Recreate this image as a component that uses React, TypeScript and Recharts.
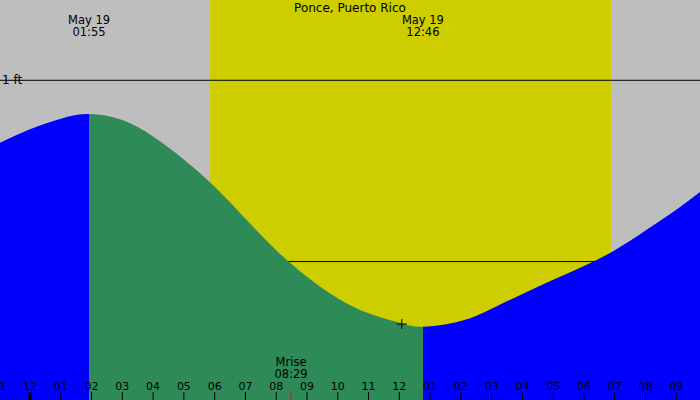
import {
  ComposedChart,
  Area,
  XAxis,
  YAxis,
  ReferenceArea,
  ReferenceLine,
  ReferenceDot,
} from 'recharts';

// tide heights (ft), hour 0 = midnight May 19
const tideHours = [-1, 0, 1, 1.917, 3, 4, 5, 6, 7, 8, 9, 10, 11, 12, 12.767, 14, 15, 16, 17, 18, 19, 20, 21, 22];
const tideFeet = [0.654, 0.73, 0.788, 0.814, 0.781, 0.69, 0.563, 0.412, 0.236, 0.062, -0.084, -0.203, -0.286, -0.338, -0.36, -0.328, -0.26, -0.179, -0.1, -0.024, 0.062, 0.171, 0.286, 0.414];

const highTide = { hour: 1.917, label: '01:55', date: 'May 19' };
const lowTide = { hour: 12.767, label: '12:46', date: 'May 19' };
const sunrise = 5.849;
const sunset = 18.878;
const moonrise = { hour: 8.483, label: '08:29' };
const marker = { hour: 12.08, feet: -0.345 };

const tickHours = [-1, 0, 1, 2, 3, 4, 5, 6, 7, 8, 9, 10, 11, 12, 13, 14, 15, 16, 17, 18, 19, 20, 21];
const feetLines = [1, 0];

const W = 700;
const H = 400;
const FONT = 'DejaVu Sans';
const BLUE = '#0000FF';
const GREEN = '#2E8B57';

const rows = tideHours.map((hour, i) => ({ hour, feet: tideFeet[i] }));

// falling tide (high -> low) is green, the rest blue; stops are fractions of the area's width
const first = tideHours[0];
const span = tideHours[tideHours.length - 1] - first;
const fallStart = (highTide.hour - first) / span;
const fallEnd = (lowTide.hour - first) / span;

function hourLabel(h: number) {
  const v = ((h % 12) + 12) % 12 || 12;
  return String(v).padStart(2, '0');
}

function HourTick(props: any) {
  const { x, payload } = props;
  const h = payload.value;
  return (
    <g>
      <line x1={x} x2={x} y1={H - 8} y2={H} stroke="#000" strokeWidth={h === 0 ? 3 : 1} />
      <text x={x} y={H - 10} textAnchor="middle" fontFamily={FONT} fontSize={11} fill="#000">
        {hourLabel(h)}
      </text>
    </g>
  );
}

function TwoLines(top: string, bottom: string, y: number) {
  return (props: any) => {
    const x = props.viewBox.x;
    return (
      <g>
        <text x={x} y={y} textAnchor="middle" fontFamily={FONT} fontSize={11.5} fill="#000">
          {top}
        </text>
        <text x={x} y={y + 12} textAnchor="middle" fontFamily={FONT} fontSize={11.5} fill="#000">
          {bottom}
        </text>
      </g>
    );
  };
}

export default function App() {
  return (
    <div style={{ width: W, height: H, background: '#BEBEBE' }}>
      <style>{'body{margin:0}'}</style>
      <ComposedChart width={W} height={H} data={rows} margin={{ top: 0, right: 0, bottom: -1, left: 0 }}>
        <defs>
          <linearGradient id="tideFill" x1="0" y1="0" x2="1" y2="0">
            <stop offset={0} stopColor={BLUE} />
            <stop offset={fallStart} stopColor={BLUE} />
            <stop offset={fallStart} stopColor={GREEN} />
            <stop offset={fallEnd} stopColor={GREEN} />
            <stop offset={fallEnd} stopColor={BLUE} />
            <stop offset={1} stopColor={BLUE} />
          </linearGradient>
        </defs>
        <XAxis
          dataKey="hour"
          type="number"
          domain={[-0.975, 21.77]}
          allowDataOverflow
          ticks={tickHours}
          tick={<HourTick />}
          axisLine={false}
          tickLine={false}
          height={1}
          interval={0}
        />
        <YAxis type="number" domain={[-0.764, 1.443]} allowDataOverflow hide />
        <ReferenceArea x1={sunrise} x2={sunset} fill="#CDCD00" fillOpacity={1} stroke="none" zIndex={-100} />
        {feetLines.map((ft) => (
          <ReferenceLine
            key={ft}
            y={ft}
            stroke="#000"
            segment={ft === 1 ? [{ x: -0.26, y: ft }, { x: 21.77, y: ft }] : undefined}
            zIndex={-50}
          />
        ))}
        <Area
          type="natural"
          dataKey="feet"
          stroke="none"
          fill="url(#tideFill)"
          fillOpacity={1}
          baseValue={-0.764}
          isAnimationActive={false}
          dot={false}
          activeDot={false}
        />
        <ReferenceLine x={highTide.hour} stroke="none" label={TwoLines(highTide.date, highTide.label, 24)} />
        <ReferenceLine x={lowTide.hour} stroke="none" label={TwoLines(lowTide.date, lowTide.label, 24)} />
        <ReferenceLine
          x={moonrise.hour}
          stroke="none"
          label={TwoLines('Mrise', moonrise.label, 366)}
          shape={(p: any) => <line x1={p.x1} x2={p.x2} y1={H - 8} y2={H} stroke="#FF0000" />}
        />
        <ReferenceDot
          x={marker.hour}
          y={marker.feet}
          shape={(p: any) => (
            <g stroke="#000" strokeWidth={1}>
              <line x1={p.cx - 5} x2={p.cx + 5} y1={p.cy} y2={p.cy} />
              <line x1={p.cx} x2={p.cx} y1={p.cy - 5} y2={p.cy + 5} />
            </g>
          )}
        />
        <text x={W / 2} y={12} textAnchor="middle" fontFamily={FONT} fontSize={12} fill="#000">
          Ponce, Puerto Rico
        </text>
        {feetLines.map((ft) => (
          <text key={ft} x={2} y={ft === 1 ? 84 : 266} fontFamily={FONT} fontSize={12} fill="#000">
            {ft} ft
          </text>
        ))}
      </ComposedChart>
    </div>
  );
}
